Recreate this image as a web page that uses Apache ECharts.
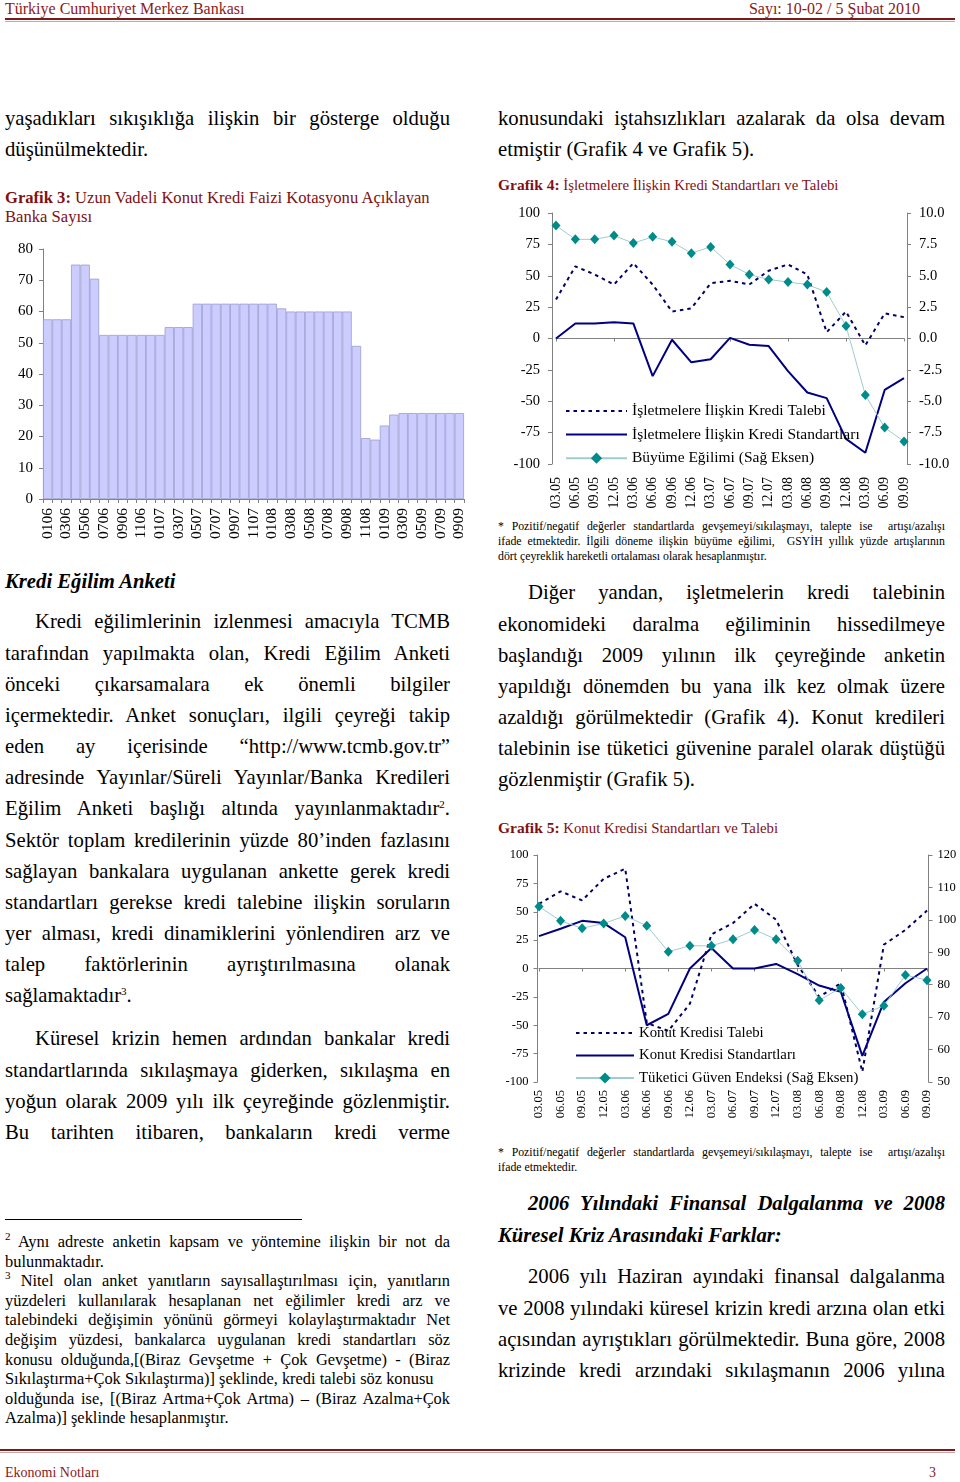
<!DOCTYPE html>
<html>
<head>
<meta charset="utf-8">
<script src="https://cdn.jsdelivr.net/npm/echarts@6/dist/echarts.min.js"></script>
<style>
html,body{margin:0;padding:0;background:#fff;}
body{width:960px;height:1482px;position:relative;overflow:hidden;font-family:'Liberation Serif','Times New Roman',serif;color:#000;}
.blk{position:absolute;}
.blk div{white-space:nowrap;text-align:justify;text-align-last:justify;}
.blk div.l{text-align-last:left;text-align:left;}
.ind{text-indent:30px;}
.body{font-size:20.7px;line-height:31.17px;}
.fn{font-size:16.4px;line-height:19.56px;}
.note{font-size:11.8px;line-height:15px;}
.ttl{color:#7f1014;}
.ttl b{font-weight:bold;}
sup{font-size:11px;line-height:0;vertical-align:7px;}
.chart{position:absolute;}
</style>
</head>
<body>

<!-- header -->
<div style="position:absolute;left:5px;top:0px;font-size:16px;line-height:18px;color:#8b1a1a;">Türkiye Cumhuriyet Merkez Bankası</div>
<div style="position:absolute;right:40px;top:0px;font-size:16px;line-height:18px;color:#8b1a1a;">Sayı: 10-02 / 5 Şubat 2010</div>
<div style="position:absolute;left:5px;width:950px;top:18px;height:2px;background:#7a1a1a;"></div>
<div style="position:absolute;left:5px;width:950px;top:21px;height:1px;background:#c8a8a8;"></div>

<!-- left column -->
<div class="blk body" style="left:5px;width:445px;top:102.5px;">
<div>yaşadıkları sıkışıklığa ilişkin bir gösterge olduğu</div>
<div class="l">düşünülmektedir.</div>
</div>

<div class="blk ttl" style="left:5px;width:445px;top:187.5px;font-size:16.6px;line-height:19px;">
<div class="l"><b>Grafik 3:</b> Uzun Vadeli Konut Kredi Faizi Kotasyonu Açıklayan</div>
<div class="l">Banka Sayısı</div>
</div>

<div id="c3" class="chart" style="left:0px;top:230px;width:480px;height:320px;"></div>

<div class="blk body" style="left:5px;width:445px;top:565.5px;font-weight:bold;font-style:italic;">
<div class="l">Kredi Eğilim Anketi</div>
</div>

<div class="blk body" style="left:5px;width:445px;top:606.4px;">
<div class="ind">Kredi eğilimlerinin izlenmesi amacıyla TCMB</div>
<div>tarafından yapılmakta olan, Kredi Eğilim Anketi</div>
<div>önceki çıkarsamalara ek önemli bilgiler</div>
<div>içermektedir. Anket sonuçları, ilgili çeyreği takip</div>
<div>eden ay içerisinde “http://www.tcmb.gov.tr”</div>
<div>adresinde Yayınlar/Süreli Yayınlar/Banka Kredileri</div>
<div>Eğilim Anketi başlığı altında yayınlanmaktadır<sup>2</sup>.</div>
<div>Sektör toplam kredilerinin yüzde 80’inden fazlasını</div>
<div>sağlayan bankalara uygulanan ankette gerek kredi</div>
<div>standartları gerekse kredi talebine ilişkin soruların</div>
<div>yer alması, kredi dinamiklerini yönlendiren arz ve</div>
<div>talep faktörlerinin ayrıştırılmasına olanak</div>
<div class="l">sağlamaktadır<sup>3</sup>.</div>
</div>

<div class="blk body" style="left:5px;width:445px;top:1023.4px;">
<div class="ind">Küresel krizin hemen ardından bankalar kredi</div>
<div>standartlarında sıkılaşmaya giderken, sıkılaşma en</div>
<div>yoğun olarak 2009 yılı ilk çeyreğinde gözlenmiştir.</div>
<div>Bu tarihten itibaren, bankaların kredi verme</div>
</div>

<div style="position:absolute;left:5px;width:297px;top:1219px;height:1px;background:#000;"></div>

<div class="blk fn" style="left:5px;width:445px;top:1232.2px;">
<div><sup>2</sup> Aynı adreste anketin kapsam ve yöntemine ilişkin bir not da</div>
<div class="l">bulunmaktadır.</div>
<div><sup>3</sup> Nitel olan anket yanıtların sayısallaştırılması için, yanıtların</div>
<div>yüzdeleri kullanılarak hesaplanan net eğilimler kredi arz ve</div>
<div>talebindeki değişimin yönünü görmeyi kolaylaştırmaktadır Net</div>
<div>değişim yüzdesi, bankalarca uygulanan kredi standartları söz</div>
<div>konusu olduğunda,[(Biraz Gevşetme + Çok Gevşetme) - (Biraz</div>
<div class="l">Sıkılaştırma+Çok Sıkılaştırma)] şeklinde, kredi talebi söz konusu</div>
<div>olduğunda ise, [(Biraz Artma+Çok Artma) – (Biraz Azalma+Çok</div>
<div class="l">Azalma)] şeklinde hesaplanmıştır.</div>
</div>

<!-- right column -->
<div class="blk body" style="left:498px;width:447px;top:102.5px;">
<div>konusundaki iştahsızlıkları azalarak da olsa devam</div>
<div class="l">etmiştir (Grafik 4 ve Grafik 5).</div>
</div>

<div class="blk ttl" style="left:498px;width:447px;top:176px;font-size:14.8px;line-height:18px;">
<div class="l"><b style="font-size:15.5px;">Grafik 4:</b> İşletmelere İlişkin Kredi Standartları ve Talebi</div>
</div>

<div id="c4" class="chart" style="left:495px;top:195px;width:465px;height:320px;"></div>

<div class="blk note" style="left:498px;width:447px;top:518.5px;">
<div>* Pozitif/negatif değerler standartlarda gevşemeyi/sıkılaşmayı, talepte ise &nbsp;artışı/azalışı</div>
<div>ifade etmektedir. İlgili döneme ilişkin büyüme eğilimi, &nbsp;GSYİH yıllık yüzde artışlarının</div>
<div class="l">dört çeyreklik hareketli ortalaması olarak hesaplanmıştır.</div>
</div>

<div class="blk body" style="left:498px;width:447px;top:577.4px;">
<div class="ind">Diğer yandan, işletmelerin kredi talebinin</div>
<div>ekonomideki daralma eğiliminin hissedilmeye</div>
<div>başlandığı 2009 yılının ilk çeyreğinde anketin</div>
<div>yapıldığı dönemden bu yana ilk kez olmak üzere</div>
<div>azaldığı görülmektedir (Grafik 4). Konut kredileri</div>
<div>talebinin ise tüketici güvenine paralel olarak düştüğü</div>
<div class="l">gözlenmiştir (Grafik 5).</div>
</div>

<div class="blk ttl" style="left:498px;width:447px;top:819px;font-size:14.8px;line-height:18px;">
<div class="l"><b style="font-size:15.5px;">Grafik 5:</b> Konut Kredisi Standartları ve Talebi</div>
</div>

<div id="c5" class="chart" style="left:495px;top:840px;width:465px;height:300px;"></div>

<div class="blk note" style="left:498px;width:447px;top:1144.5px;">
<div>* Pozitif/negatif değerler standartlarda gevşemeyi/sıkılaşmayı, talepte ise &nbsp;artışı/azalışı</div>
<div class="l">ifade etmektedir.</div>
</div>

<div class="blk body" style="left:498px;width:447px;top:1188.4px;font-weight:bold;font-style:italic;">
<div class="ind">2006 Yılındaki Finansal Dalgalanma ve 2008</div>
<div class="l">Küresel Kriz Arasındaki Farklar:</div>
</div>

<div class="blk body" style="left:498px;width:447px;top:1261.4px;">
<div class="ind">2006 yılı Haziran ayındaki finansal dalgalanma</div>
<div>ve 2008 yılındaki küresel krizin kredi arzına olan etki</div>
<div>açısından ayrıştıkları görülmektedir. Buna göre, 2008</div>
<div>krizinde kredi arzındaki sıkılaşmanın 2006 yılına</div>
</div>

<!-- footer -->
<div style="position:absolute;left:0px;width:955px;top:1449px;height:2px;background:#7a1a1a;"></div>
<div style="position:absolute;left:0px;width:955px;top:1452px;height:1px;background:#c8a8a8;"></div>
<div style="position:absolute;left:5px;top:1465px;font-size:14px;line-height:16px;color:#8b1a1a;">Ekonomi Notları</div>
<div style="position:absolute;left:929px;top:1465px;font-size:14px;line-height:16px;color:#8b1a1a;">3</div>

<script>
// ---------- Grafik 3 data ----------
const c3Categories = [
  '0106','0206','0306','0406','0506','0606','0706','0806','0906','1006','1106','1206',
  '0107','0207','0307','0407','0507','0607','0707','0807','0907','1007','1107','1207',
  '0108','0208','0308','0408','0508','0608','0708','0808','0908','1008','1108','1208',
  '0109','0209','0309','0409','0509','0609','0709','0809','0909'
];
const c3Values = [
  57.5, 57.5, 57.5, 75, 75, 70.5, 52.5, 52.5, 52.5, 52.5, 52.5, 52.5,
  52.5, 55, 55, 55, 62.5, 62.5, 62.5, 62.5, 62.5, 62.5, 62.5, 62.5,
  62.5, 61, 60, 60, 60, 60, 60, 60, 60, 49, 19.5, 19,
  23.5, 27, 27.5, 27.5, 27.5, 27.5, 27.5, 27.5, 27.5
];

// ---------- Grafik 4 / 5 data ----------
const quarters = ['03.05','06.05','09.05','12.05','03.06','06.06','09.06','12.06','03.07','06.07',
                  '09.07','12.07','03.08','06.08','09.08','12.08','03.09','06.09','09.09'];

const g4Talep  = [31, 57.5, 51, 43, 60, 43, 21.5, 24, 44, 46, 43, 54, 59, 51, 5, 21.5, -5.5, 20, 17];
const g4Std    = [0, 12, 12, 13, 12, -30, -1, -19, -16.5, 0.5, -5, -6, -26, -43, -47.5, -80, -91, -41, -31.5];
const g4Growth = [9.0, 7.9, 7.9, 8.2, 7.6, 8.1, 7.7, 6.8, 7.3, 5.9, 5.1, 4.7, 4.5, 4.3, 3.7, 1.0, -4.5, -7.1, -8.2];

const g5Talep  = [57, 68, 60, 79, 88, -48, -55, -31, 30, 40, 57, 43, 3, -25, -13, -91, 21, 34, 51];
const g5Std    = [28.5, 35, 42, 40, 27.5, -50, -40, 0, 18, 0, 0, 4, -5, -15, -20.5, -77, -29.5, -13, 0];
const g5Conf   = [104.1, 99.7, 97.4, 98.9, 101.2, 98.2, 90.2, 92.0, 92.0, 94.0, 96.9, 94.0, 87.4, 75.2, 79.0, 70.9, 73.5, 83.0, 81.4];

const g4Names = ['İşletmelere İlişkin Kredi Talebi', 'İşletmelere İlişkin Kredi Standartları', 'Büyüme Eğilimi (Sağ Eksen)'];
const g5Names = ['Konut Kredisi Talebi', 'Konut Kredisi Standartları', 'Tüketici Güven Endeksi (Sağ Eksen)'];

const F = "'Liberation Serif','Times New Roman',serif";
const AX = '#808080';

// ---------- Grafik 3 ----------
echarts.init(document.getElementById('c3'), null, {renderer: 'canvas'}).setOption({
  animation: false,
  grid: {left: 43, right: 16, top: 19, bottom: 51},
  xAxis: {
    type: 'category', data: c3Categories,
    axisLine: {lineStyle: {color: AX}},
    axisTick: {show: true, interval: 0, length: 4, lineStyle: {color: AX}},
    axisLabel: {interval: 1, rotate: 90, margin: 9, fontSize: 15.5, fontFamily: F, color: '#000'}
  },
  yAxis: {
    type: 'value', min: 0, max: 80, interval: 10,
    axisLine: {show: true, lineStyle: {color: AX}},
    axisTick: {show: true, length: 4, lineStyle: {color: AX}},
    splitLine: {show: false},
    axisLabel: {margin: 10, fontSize: 15, fontFamily: F, color: '#000'}
  },
  series: [{
    type: 'bar', data: c3Values, barCategoryGap: '0%',
    itemStyle: {color: '#ccccff', borderColor: '#9c9cd2', borderWidth: 0.8}
  }]
});

function dualChart(id, cfg) {
  const lbl = fs => ({fontSize: fs, fontFamily: F, color: '#000'});
  const hideSym = {color: 'rgba(0,0,0,0)', borderWidth: 0, opacity: 0};
  echarts.init(document.getElementById(id), null, {renderer: 'canvas'}).setOption({
    animation: false,
    grid: cfg.grid,
    legend: {
      orient: 'vertical', left: cfg.legLeft, top: cfg.legTop, padding: 0,
      itemWidth: cfg.legW, itemHeight: 14, itemGap: cfg.legGap,
      textStyle: {fontSize: cfg.legFs, fontFamily: F, color: '#000'},
      data: [
        {name: cfg.names[0], itemStyle: hideSym},
        {name: cfg.names[1], itemStyle: hideSym},
        {name: cfg.names[2]}
      ]
    },
    xAxis: [
      {type: 'category', data: quarters, boundaryGap: false,
       axisLine: {show: false, onZero: false}, axisTick: {show: false},
       axisLabel: Object.assign({rotate: 90, interval: 0, margin: cfg.xMargin}, lbl(cfg.xfs))},
      {type: 'category', data: quarters, boundaryGap: false, position: 'bottom',
       axisLine: {show: true, onZero: true, onZeroAxisIndex: 0, lineStyle: {color: AX}},
       axisTick: {show: true, length: 3, lineStyle: {color: AX}},
       axisLabel: {show: false}}
    ],
    yAxis: [
      {type: 'value', min: cfg.lmin, max: cfg.lmax, interval: cfg.lint, offset: cfg.offL,
       axisLine: {show: true, lineStyle: {color: AX}},
       axisTick: {show: true, length: 4, lineStyle: {color: AX}},
       splitLine: {show: false},
       axisLabel: Object.assign({margin: cfg.yMarginL}, lbl(cfg.yfs))},
      {type: 'value', position: 'right', min: cfg.rmin, max: cfg.rmax, interval: cfg.rint, offset: cfg.offR,
       axisLine: {show: true, lineStyle: {color: AX}},
       axisTick: {show: true, length: 4, lineStyle: {color: AX}},
       splitLine: {show: false},
       axisLabel: Object.assign({margin: cfg.yMarginR, formatter: cfg.rfmt}, lbl(cfg.yfs))}
    ],
    series: [
      {name: cfg.names[0], type: 'line', data: cfg.talep, yAxisIndex: 0, xAxisIndex: 0,
       symbol: 'none', lineStyle: {color: '#000066', width: 2, type: [3.5, 4]}, itemStyle: {color: '#000066'}},
      {name: cfg.names[1], type: 'line', data: cfg.std, yAxisIndex: 0, xAxisIndex: 0,
       symbol: 'none', lineStyle: {color: '#000080', width: 2}, itemStyle: {color: '#000080'}},
      {name: cfg.names[2], type: 'line', data: cfg.right, yAxisIndex: 1, xAxisIndex: 0,
       symbol: 'diamond', symbolSize: [9, 10], showSymbol: true,
       lineStyle: {color: '#9fcccc', width: 1}, itemStyle: {color: '#008b8b'}}
    ]
  });
}

dualChart('c4', {
  grid: {left: 61, right: 56, top: 18, bottom: 51},
  xfs: 14, yfs: 14.5, xMargin: 13, yMarginL: 12, yMarginR: 12, offL: 4, offR: 3,
  lmin: -100, lmax: 100, lint: 25, rmin: -10, rmax: 10, rint: 2.5,
  rfmt: v => v.toFixed(1),
  legLeft: 70, legTop: 208, legW: 61, legGap: 7.6, legFs: 15.5,
  names: g4Names, talep: g4Talep, std: g4Std, right: g4Growth
});

dualChart('c5', {
  grid: {left: 44, right: 33, top: 15, bottom: 58},
  xfs: 12.5, yfs: 12.5, xMargin: 8, yMarginL: 9, yMarginR: 9, offL: 1.5, offR: 1.5,
  lmin: -100, lmax: 100, lint: 25, rmin: 50, rmax: 120, rint: 10,
  rfmt: v => String(v),
  legLeft: 80, legTop: 185.5, legW: 58, legGap: 7.5, legFs: 14.8,
  names: g5Names, talep: g5Talep, std: g5Std, right: g5Conf
});
</script>
</body>
</html>
